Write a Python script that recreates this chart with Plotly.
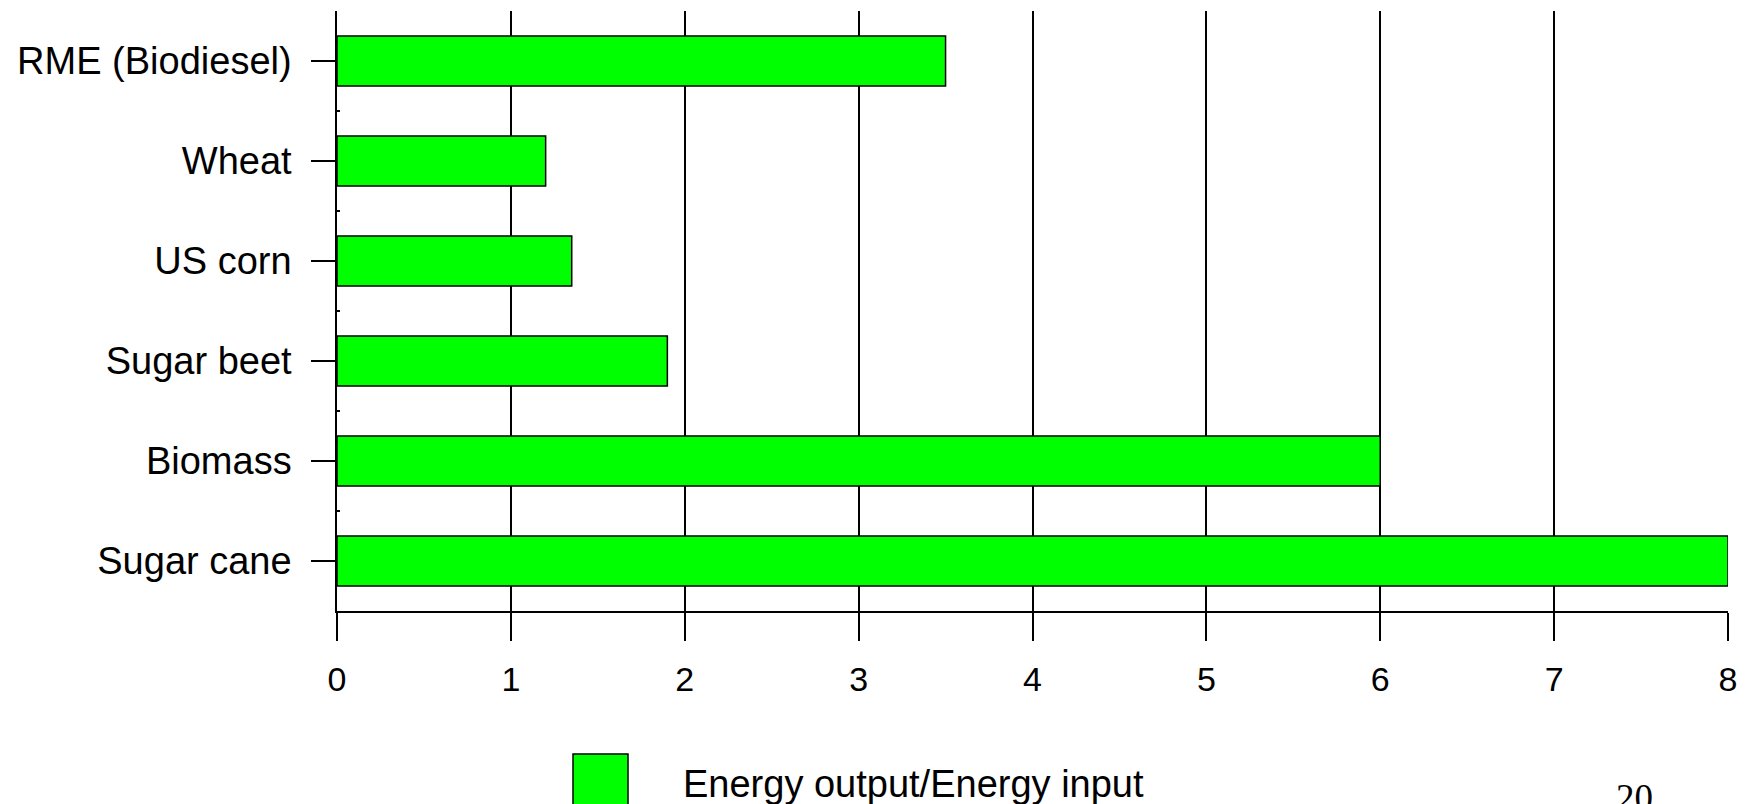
import plotly.graph_objects as go

categories = ["Sugar cane", "Biomass", "Sugar beet", "US corn", "Wheat", "RME (Biodiesel)"]
ratio = [8.0, 6.0, 1.9, 1.35, 1.2, 3.5]
legend_label = "Energy output/Energy input"
x_ticks = [0, 1, 2, 3, 4, 5, 6, 7, 8]
page_number = "20"

FONT = "Arial, Liberation Sans, sans-serif"

# the page body has an 8px margin, so the figure is drawn 8px in from the corner
W, H = 1743, 796
L, T, R = 329, 3, 23
PLOT_W, PLOT_H = W - L - R, 600


def px(x):
    # screen x -> paper x
    return (x - 8 - L) / PLOT_W


def py(y):
    # screen y -> paper y
    return 1 - (y - 8 - T) / PLOT_H


fig = go.Figure()
fig.add_bar(
    y=categories,
    x=ratio,
    orientation="h",
    width=0.5,
    marker=dict(color="#00FF00", line=dict(color="black", width=1.5)),
    name=legend_label,
    showlegend=False,
)
# empty trace on an overlaid axis that carries the small boundary ticks
fig.add_scatter(x=[None], y=[None], yaxis="y2", showlegend=False, hoverinfo="skip")

fig.update_layout(
    width=W,
    height=H,
    paper_bgcolor="white",
    plot_bgcolor="white",
    font=dict(family=FONT, color="black"),
    margin=dict(l=L, r=R, t=T, b=H - T - PLOT_H, autoexpand=False),
    xaxis=dict(
        range=[0, 8],
        tickvals=x_ticks,
        showgrid=True,
        gridcolor="black",
        gridwidth=1.5,
        zeroline=False,
        showline=True,
        linecolor="black",
        linewidth=1.5,
        ticks="outside",
        ticklen=28,
        tickwidth=1.5,
        tickcolor="black",
        tickfont=dict(size=34, family=FONT),
        ticklabelstandoff=9,
    ),
    yaxis=dict(
        type="category",
        categoryorder="array",
        categoryarray=categories,
        range=[-0.5, 5.5],
        showgrid=False,
        showline=True,
        linecolor="black",
        linewidth=1.5,
        ticks="outside",
        ticklen=24,
        tickwidth=1.5,
        tickcolor="black",
        tickfont=dict(size=38, family=FONT),
        ticklabelstandoff=12,
    ),
    yaxis2=dict(
        overlaying="y",
        range=[-0.5, 5.5],
        tickvals=[0.5, 1.5, 2.5, 3.5, 4.5, 5.5],
        showticklabels=False,
        showgrid=False,
        zeroline=False,
        ticks="inside",
        ticklen=3,
        tickwidth=2,
        tickcolor="black",
        side="left",
    ),
)

# legend swatch and label
fig.add_shape(
    type="rect", xref="paper", yref="paper",
    x0=px(573), x1=px(628), y0=py(754), y1=py(810),
    fillcolor="#00FF00", line=dict(color="black", width=1.5),
)
fig.add_annotation(
    text=legend_label, xref="paper", yref="paper",
    x=px(681), y=py(784),
    xanchor="left", yanchor="middle", showarrow=False,
    font=dict(size=38, family=FONT, color="black"),
)
fig.add_annotation(
    text=page_number, xref="paper", yref="paper",
    x=px(1634), y=py(775),
    xanchor="center", yanchor="top", showarrow=False,
    font=dict(size=37, family="Times New Roman, Liberation Serif, serif", color="black"),
)

fig.write_html("out.html")
